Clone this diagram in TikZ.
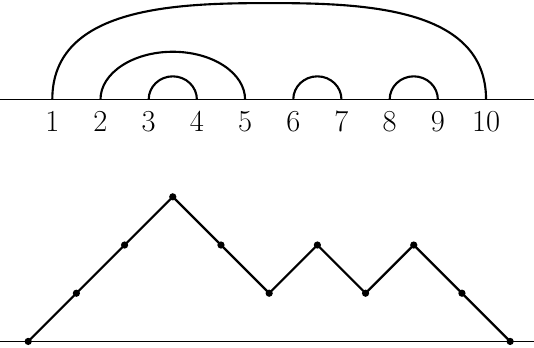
\documentclass[tikz,border=0pt]{standalone}
\begin{document}
\begin{tikzpicture}[
  baseln/.style={line width=0.8pt},
  arcln/.style={line width=1.25pt},
  pathln/.style={line width=1.3pt},
  lbl/.style={anchor=base,inner sep=0pt,font=\fontsize{18}{20}\selectfont},
  dot/.style={circle,fill=black,inner sep=0pt,minimum size=0.15cm}
]
\useasboundingbox (-0.085,-5.156) rectangle (10.995,2.064);
% top baseline
\coordinate (tl) at (-0.1,0);
\coordinate (tr) at (11,0);
\draw[baseln] (tl) -- (tr);
\foreach \k in {1,...,10} {
  \coordinate (p\k) at (\k,0);
  \node[lbl] (l\k) at (\k,-0.66) {\k};
}
% arcs
\coordinate (top) at (5.5,2);
\draw[arcln] (p1) to[out=90,in=180] (top) to[out=0,in=90] (p10);
\draw[arcln] (p2) arc[start angle=180,end angle=0,x radius=1.5,y radius=0.99];
\draw[arcln] (p3) arc[start angle=180,end angle=0,x radius=0.5,y radius=0.48];
\draw[arcln] (p6) arc[start angle=180,end angle=0,x radius=0.5,y radius=0.48];
\draw[arcln] (p8) arc[start angle=180,end angle=0,x radius=0.5,y radius=0.48];
% bottom baseline
\coordinate (bl) at (-0.1,-5.02);
\coordinate (br) at (11,-5.02);
\draw[baseln] (bl) -- (br);
% Dyck path
\foreach \i/\h in {0/0,1/1,2/2,3/3,4/2,5/1,6/2,7/1,8/2,9/1,10/0} {
  \node[dot] (d\i) at ({\i+0.5},{-5.02+\h}) {};
}
\draw[pathln] (d0.center) -- (d1.center) -- (d2.center) -- (d3.center) -- (d4.center) -- (d5.center) -- (d6.center) -- (d7.center) -- (d8.center) -- (d9.center) -- (d10.center);
\end{tikzpicture}
\end{document}
